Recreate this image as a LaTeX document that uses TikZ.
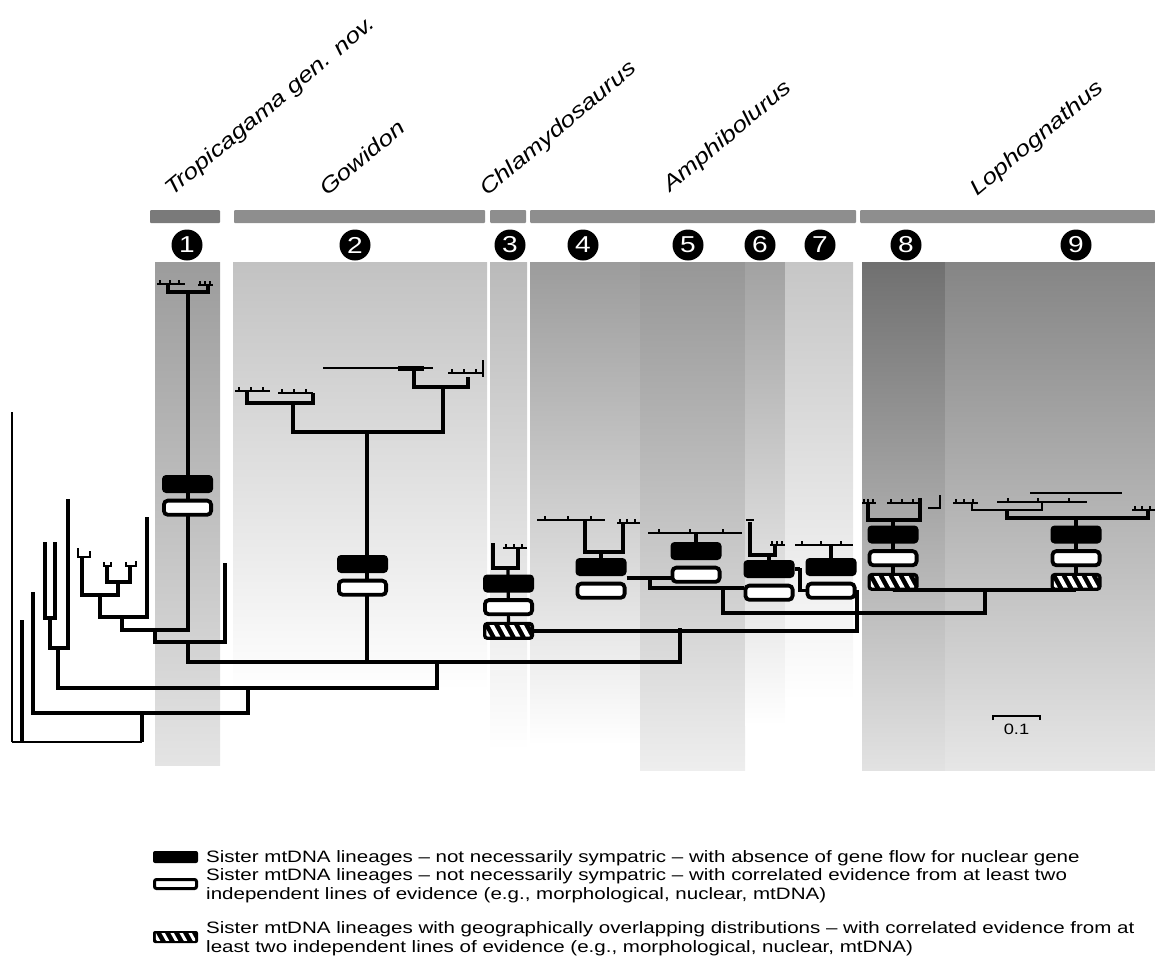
\documentclass[tikz,border=0pt]{standalone}
\usepackage{fontspec}
\setmainfont{Liberation Sans}
\newfontfamily\widesans[FakeStretch=1.22]{Liberation Sans}
\newfontfamily\legendsans[FakeStretch=1.245]{Liberation Sans}
\usetikzlibrary{calc,positioning}
\definecolor{BarGray}{HTML}{8E8E8E}
\definecolor{BarDark}{HTML}{7A7A7A}
\newcommand{\genusfont}{\widesans\itshape\fontsize{21.5}{21.5}\selectfont}
\newcommand{\legendfont}{\legendsans\fontsize{16.5}{18.5}\selectfont}
\newcommand{\numfont}{\widesans\fontsize{23}{23}\selectfont}
\pgfdeclarelayer{shadelayer}
\pgfdeclarelayer{treelayer}
\pgfsetlayers{shadelayer,treelayer,main}
% white stripes on a black box
\newcommand{\stripes}[1]{%
  \begin{scope}
    \clip[rounded corners=1.5pt] ($(#1.south west)+(3.5,-3.5)$) rectangle ($(#1.north east)+(-3.5,3.5)$);
    \foreach \k in {-14,-4,...,56}
      \draw[white, line width=4pt] ($(#1.north west)+(\k,-2)$) -- ++(12,22);
  \end{scope}}
% short tip line with ticks
\newcommand{\tuft}[3]{%
  \draw[tip] (#1,#2) -- ++(#3,0);
  \foreach \f in {0.12,0.45,0.8}
    \draw[tip] ($(#1,#2)+({\f*#3},0)$) -- ++(0,-4);}

\begin{document}
\begin{tikzpicture}[x=1pt,y=-1pt,
    branch/.style={line width=3.2pt},
    thinbranch/.style={line width=1.4pt},
    tip/.style={line width=2pt},
    blackbox/.style={rectangle, rounded corners=4pt, fill=black, minimum width=51pt, minimum height=18pt, inner sep=0pt},
    whitebox/.style={rectangle, rounded corners=4pt, draw=black, fill=white, line width=3.8pt, minimum width=47.2pt, minimum height=14.2pt, inner sep=0pt},
    numdot/.style={circle, fill=black, minimum size=31pt, inner sep=0pt, text=white, font=\numfont},
    genus/.style={anchor=base west, rotate=40, inner sep=0pt, font=\genusfont},
    legend/.style={anchor=base west, inner sep=0pt, align=left, font=\legendfont}
  ]
  \useasboundingbox (0,0) rectangle (1155,956);

  % Shaded columns
  \begin{pgfonlayer}{shadelayer}
    \shade[top color={rgb,255:red,156;green,156;blue,156}, bottom color={rgb,255:red,228;green,228;blue,228}] (155,262) rectangle (220,765);
    \shade[top color={rgb,255:red,194;green,194;blue,194}, bottom color=white] (233,262) rectangle (487,690);
    \shade[top color={rgb,255:red,186;green,186;blue,186}, bottom color=white] (490,262) rectangle (527,750);
    \shade[top color={rgb,255:red,156;green,156;blue,156}, bottom color=white] (530,262) rectangle (640,745);
    \shade[top color={rgb,255:red,151;green,151;blue,151}, bottom color={rgb,255:red,238;green,238;blue,238}] (640,262) rectangle (745,770);
    \shade[top color={rgb,255:red,162;green,162;blue,162}, bottom color=white] (745,262) rectangle (785,725);
    \shade[top color={rgb,255:red,198;green,198;blue,198}, bottom color=white] (785,262) rectangle (853,700);
    \shade[top color={rgb,255:red,112;green,112;blue,112}, bottom color={rgb,255:red,226;green,226;blue,226}] (862,262) rectangle (945,770);
    \shade[top color={rgb,255:red,133;green,133;blue,133}, bottom color={rgb,255:red,230;green,230;blue,230}] (945,262) rectangle (1155,770);
  \end{pgfonlayer}

  % Genus bars and labels
  \fill[BarDark, rounded corners=1pt] (150,210) rectangle (220,223);
  \fill[BarGray, rounded corners=1pt] (234,210) rectangle (485,223);
  \fill[BarGray, rounded corners=1pt] (490,210) rectangle (526,223);
  \fill[BarGray, rounded corners=1pt] (530,210) rectangle (856,223);
  \fill[BarGray, rounded corners=1pt] (860,210) rectangle (1155,223);
  \node[genus] (gTro) at (172,197) {Tropicagama gen. nov.};
  \node[genus] (gGow) at (327,197) {Gowidon};
  \node[genus] (gChl) at (487,197) {Chlamydosaurus};
  \node[genus] (gAmp) at (670,193) {Amphibolurus};
  \node[genus] (gLop) at (977,197) {Lophognathus};

  % Numbered lineages
  \foreach \n/\x in {1/187,2/355,3/510,4/583,5/688,6/760,7/820,8/906,9/1076}
    \node[numdot] (num\n) at (\x,245) {\n};

  % Boxes
  \node[blackbox] (k1) at (187.5,484) {};
  \node[whitebox, below=5.5pt of k1] (w1) {};
  \node[blackbox] (k2) at (362.5,564) {};
  \node[whitebox, below=5.5pt of k2] (w2) {};
  \node[blackbox] (k3) at (508.5,583.5) {};
  \node[whitebox, below=5.5pt of k3] (w3) {};
  \node[blackbox, below=5.5pt of w3] (h3) {};
  \node[blackbox] (k4) at (601,567) {};
  \node[whitebox, below=5.5pt of k4] (w4) {};
  \node[blackbox] (k5) at (696,551) {};
  \node[whitebox, below=5.5pt of k5] (w5) {};
  \node[blackbox] (k6) at (769,569) {};
  \node[whitebox, below=5.5pt of k6] (w6) {};
  \node[blackbox] (k7) at (831,567) {};
  \node[whitebox, below=5.5pt of k7] (w7) {};
  \node[blackbox] (k8) at (893,534.5) {};
  \node[whitebox, below=5.5pt of k8] (w8) {};
  \node[blackbox, below=5.5pt of w8] (h8) {};
  \node[blackbox] (k9) at (1076,534.5) {};
  \node[whitebox, below=5.5pt of k9] (w9) {};
  \node[blackbox, below=5.5pt of w9] (h9) {};
  \stripes{h3}
  \stripes{h8}
  \stripes{h9}

  % Tree
  \coordinate (root) at (12,742);
  \coordinate (og) at (12,412);
  \coordinate (og2) at (22,620);
  \coordinate (nA) at (142,713);
  \coordinate (lf1) at (33,592);
  \coordinate (nB) at (248,688);
  \coordinate (nC) at (58,648);
  \coordinate (lf2) at (68,499);
  \coordinate (nD) at (50,618);
  \coordinate (lf3) at (45,542);
  \coordinate (lf4) at (55,542);
  \coordinate (nE) at (437,662);
  \coordinate (nF) at (188,642);
  \coordinate (gw) at (367,432);
  \coordinate (nJ) at (680,628);
  \coordinate (nG) at (155,630);
  \coordinate (lf5) at (225,563);
  \coordinate (nH) at (122,617);
  \coordinate (tr) at (188,292);
  \coordinate (nI) at (100,595);
  \coordinate (lf6) at (147,517);
  \coordinate (lf7) at (82,557);
  \coordinate (nK) at (118,582);
  \coordinate (lf8) at (107,566);
  \coordinate (lf9) at (130,566);
  \coordinate (c7) at (857,590);
  \coordinate (nM) at (857,613);
  \coordinate (nAm) at (723,588);
  \coordinate (nAm2) at (650,578);
  \coordinate (nLo) at (985,590);
  \coordinate (gwL) at (293,403);
  \coordinate (gwR) at (443,387);
  \coordinate (t3) at (508,568);
  \coordinate (t4) at (601,552);
  \coordinate (t5) at (696,533);
  \coordinate (t6) at (769,555);
  \coordinate (t7) at (831,545);
  \coordinate (t8) at (893,520);
  \coordinate (t9) at (1076,518);

  \begin{pgfonlayer}{treelayer}
    \draw[thinbranch] (root) -- (og);
    \draw[thinbranch] (root) -- (root -| nA);
    \draw[branch] (og2) -- (og2 |- root);
    \draw[branch] (root -| nA) -- (nA);
    \draw[branch] (lf1) |- (nA) -| (nB);
    \draw[branch] (nC) |- (nB) -| (nE);
    \draw[branch] (nD) |- (nC) -| (lf2);
    \draw[branch] (lf3) |- (nD) -| (lf4);
    \draw[branch] (nF) |- (nE) -| (nJ);
    \draw[branch] (gw) -- (gw |- nE);
    \draw[branch] (nG) |- (nF) -| (lf5);
    \draw[branch] (nH) |- (nG) -| (tr);
    \draw[branch] (nI) |- (nH) -| (lf6);
    \draw[branch] (lf7) |- (nI) -| (nK);
    \draw[branch] (lf8) |- (nK) -| (lf9);
    \draw[tip] ($(lf7)+(-4,-9)$) |- (lf7) -| ($(lf7)+(8,-6)$);
    \draw[tip] ($(lf8)+(-3,-4)$) |- (lf8) -| ($(lf8)+(4,-4)$);
    \draw[tip] ($(lf9)+(-4,-4)$) |- (lf9) -| ($(lf9)+(6,-5)$);
    % Tropicagama tips
    \draw[branch] ($(tr)+(-20,-8)$) |- (tr) -| ($(tr)+(20,-7)$);
    \tuft{157}{284}{28}
    \tuft{198}{285}{15}
    % Gowidon tips
    \draw[branch] (gwL) |- (gw) -| (gwR);
    \draw[branch] ($(gwL)+(-46,-12)$) |- (gwL) -| ($(gwL)+(20,-10)$);
    \draw[branch] ($(gwR)+(-29,-17)$) |- (gwR) -| ($(gwR)+(25,-10)$);
    \tuft{235}{391}{35}
    \tuft{278}{393}{35}
    \draw[line width=1.6pt] (323,368) -- (433,368);
    \fill (398,366) rectangle (424,371);
    \tuft{448}{373}{35}
    \draw[tip] (483,360) -- (483,377);
    % Chlamydosaurus, Amphibolurus and Lophognathus
    \draw[branch] (h3.east) -| (c7);
    \draw[branch] (nAm) |- (nM) -| (nLo);
    \draw[branch] (nAm2) |- (nAm) -- (nAm -| w6.west);
    \draw[branch] (nAm2 -| k4.east) -- (nAm2 -| w5.west);
    \draw[branch] (k6.east) -| ($(k6.east)!0.5!(k7.west)$) |- (w7.west);
    \draw[branch] (h8.south) |- (nLo) -| (h9.south);
    \draw[branch] (h3.center) -- (t3);
    \draw[branch] ($(t3)+(-15,-25)$) |- (t3) -| ($(t3)+(10,-20)$);
    \tuft{503}{548}{24}
    \draw[branch] (k4.center) -- (t4);
    \draw[branch] ($(t4)+(-16,-32)$) |- (t4) -| ($(t4)+(22,-29)$);
    \tuft{537}{520}{68}
    \tuft{617}{523}{23}
    \draw[branch] (k5.center) -- (t5);
    \tuft{648}{533}{94}
    \draw[branch] (k6.center) -- (t6);
    \draw[branch] ($(t6)+(-19,-33)$) |- (t6) -| ($(t6)+(6,-10)$);
    \tuft{770}{545}{15}
    \draw[tip] (746,520) -- (754,520);
    \draw[branch] (k7.center) -- (t7);
    \tuft{795}{545}{58}
    \draw[branch] (h8.center) -- (t8);
    \draw[branch] ($(t8)+(-25,-17)$) |- (t8) -| ($(t8)+(27,-22)$);
    \tuft{862}{503}{14}
    \tuft{887}{503}{33}
    \draw[tip] (928,508) -| (940,495);
    \draw[branch] (h9.center) -- (t9);
    \draw[branch] ($(t9)+(-69,-8)$) |- (t9) -| ($(t9)+(72,-8)$);
    \draw[tip] (972,503) |- (1007,510) -| (1042,502);
    \tuft{953}{503}{25}
    \tuft{997}{502}{90}
    \draw[line width=1.5pt] (1030,493) -- (1122,493);
    \tuft{1132}{510}{23}
  \end{pgfonlayer}

  % Scale bar
  \coordinate (sb1) at (993,716);
  \coordinate (sb2) at (1040,716);
  \draw[line width=1.6pt] ($(sb1)+(0,4)$) -- (sb1) -- (sb2) -- ++(0,4);
  \node[font=\widesans\fontsize{15}{15}\selectfont] (sbl) at ($(sb1)!0.5!(sb2)+(0,13)$) {0.1};

  % Legend
  \node[blackbox, minimum width=45pt, minimum height=12pt, rounded corners=2pt] (key1) at (175.5,857) {};
  \node[whitebox, minimum width=42pt, minimum height=9pt, line width=3pt, rounded corners=2pt] (key2) at (175.5,884) {};
  \node[blackbox, minimum width=45pt, minimum height=12pt, rounded corners=2pt] (key3) at (175.5,937) {};
  \begin{scope}
    \clip ($(key3.south west)+(3,-3)$) rectangle ($(key3.north east)+(-3,3)$);
    \foreach \k in {-10,-1,...,45}
      \draw[white, line width=3pt] ($(key3.north west)+(\k,-2)$) -- ++(9,16);
  \end{scope}
  \node[legend] (lg1) at (206,862) {Sister mtDNA lineages – not necessarily sympatric – with absence of gene flow for nuclear gene};
  \node[legend] (lg2) at (206,899) {Sister mtDNA lineages – not necessarily sympatric – with correlated evidence from at least two\\independent lines of evidence (e.g., morphological, nuclear, mtDNA)};
  \node[legend] (lg3) at (206,952) {Sister mtDNA lineages with geographically overlapping distributions – with correlated evidence from at\\least two independent lines of evidence (e.g., morphological, nuclear, mtDNA)};
\end{tikzpicture}
\end{document}
